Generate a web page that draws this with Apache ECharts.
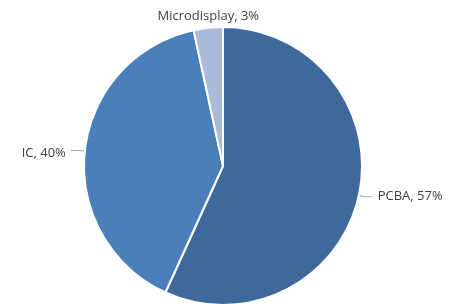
<html>
  <head>
    <script src="https://cdn.jsdelivr.net/npm/echarts@6.0.0/dist/echarts.min.js"></script>
  </head>
  <body style="margin:0; background-color:#ffffff;">
    <div id="chart" style="width:454px; height:304px;"></div>
    <script>
      const categories = ['PCBA', 'IC', 'Microdisplay'];
      // slice sizes as drawn; labels show the rounded shares
      const shares = [56.8, 39.8, 3.4];
      const colors = ['#40699b', '#4b7fbc', '#aabbda'];

      const chart = echarts.init(document.getElementById('chart'));

      const option = {
        backgroundColor: '#ffffff',
        animation: false,
        series: [
          {
            type: 'pie',
            center: [223, 166],
            radius: 139,
            startAngle: 90,
            clockwise: true,
            avoidLabelOverlap: false,
            itemStyle: {
              borderColor: '#ffffff',
              borderWidth: 2
            },
            label: {
              formatter: p => p.name + ', ' + Math.round(p.percent) + '%',
              color: '#404040',
              fontSize: 13,
              fontFamily: 'Open Sans'
            },
            labelLine: {
              length: 6,
              length2: 8,
              lineStyle: { color: '#a6a6a6', width: 1 }
            },
            labelLayout: params => {
              if (params.dataIndex === 2) {
                return {
                  x: params.rect.x + params.rect.width / 2,
                  y: params.rect.y + 1,
                  align: 'center',
                  verticalAlign: 'bottom'
                };
              }
              if (params.dataIndex === 1) return { dy: 3 };
              return {};
            },
            data: categories.map((c, i) => ({
              name: c,
              value: shares[i],
              itemStyle: { color: colors[i] },
              labelLine: i === 2 ? { show: false } : undefined
            }))
          }
        ]
      };

      chart.setOption(option);
    </script>
  </body>
</html>
